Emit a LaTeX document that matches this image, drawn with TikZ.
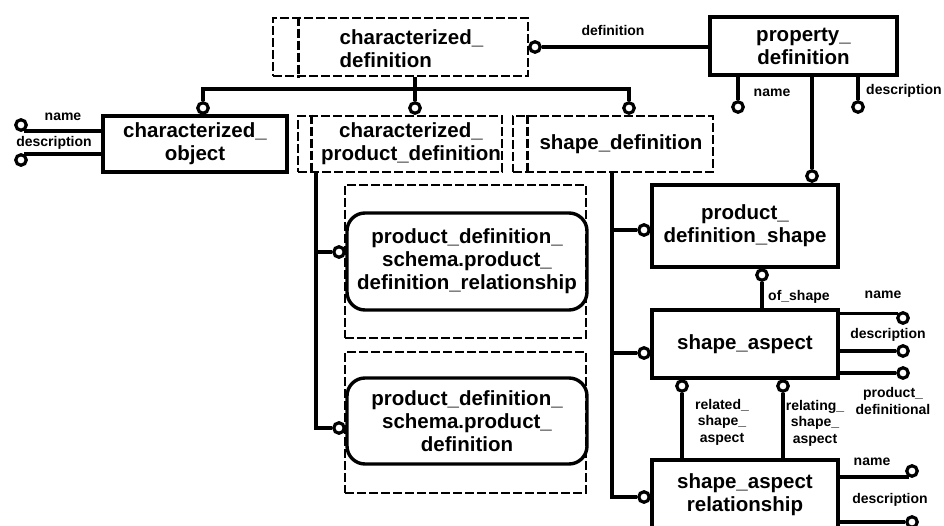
\documentclass[tikz,border=0pt]{standalone}
\usepackage{fontspec}
\setmainfont{Liberation Sans}
\newcommand{\boxfont}{\fontsize{20.5}{23}\selectfont\bfseries}
\newcommand{\lblfont}{\fontsize{14}{16.5}\selectfont\bfseries}

\begin{document}
\begin{tikzpicture}[x=1pt, y=-1pt,
    conn/.style={line width=3.4pt},
    ent/.style={draw, line width=3.4pt, font=\boxfont, align=center, inner sep=0pt},
    refbox/.style={ent, rounded corners=18pt},
    sel/.style={draw, line width=2.8pt, dash pattern=on 9pt off 3pt, inner sep=0pt},
    selbar/.style={line width=2.8pt, dash pattern=on 9pt off 3pt},
    txt/.style={font=\boxfont, align=center, inner sep=0pt},
    lbl/.style={font=\lblfont, align=center, inner sep=0pt},
    endc/.style={circle, draw, fill=white, line width=3.2pt, minimum size=10.5pt, inner sep=0pt}]
  \clip (0,0) rectangle (944,526);

  % select types
  \node[sel, minimum width=255pt, minimum height=58pt] (chardef) at (400.5,47) {};
  \draw[selbar] ([xshift=27pt]chardef.north west) -- ([xshift=27pt]chardef.south west);
  \node[txt, align=left] (chardef-t) at (411.5,49) {characterized\_\\definition};

  \node[sel, minimum width=204pt, minimum height=56pt] (cpd) at (400,144) {};
  \draw[selbar] ([xshift=15pt]cpd.north west) -- ([xshift=15pt]cpd.south west);
  \node[txt] (cpd-t) at (411,144) {characterized\_\\product\_definition};

  \node[sel, minimum width=200pt, minimum height=56pt] (sd) at (613,144) {};
  \draw[selbar] ([xshift=16pt]sd.north west) -- ([xshift=16pt]sd.south west);
  \node[txt] (sd-t) at (621,144) {shape\_definition};

  % entities
  \node[ent, minimum width=187pt, minimum height=58pt] (propdef) at (803.5,46) {property\_\\definition};
  \node[ent, minimum width=184pt, minimum height=56pt] (cobj) at (195,144) {characterized\_\\object};
  \node[ent, minimum width=186pt, minimum height=82pt] (pds) at (745,226) {product\_\\definition\_shape};
  \node[ent, minimum width=186pt, minimum height=68pt] (sa) at (745,344) {shape\_aspect};
  \node[ent, minimum width=186pt, minimum height=70pt] (sar) at (745,495) {shape\_aspect\\relationship};

  % references to the other schema
  \node[sel, minimum width=241pt, minimum height=153pt] (fa) at (465.5,261.5) {};
  \node[sel, minimum width=241pt, minimum height=141pt] (fb) at (465.5,422.5) {};
  \node[refbox, minimum width=240pt, minimum height=97pt] (pdr) at (467,261.5) {product\_definition\_\\schema.product\_\\definition\_relationship};
  \node[refbox, minimum width=240pt, minimum height=86pt] (pd) at (467,421) {product\_definition\_\\schema.product\_\\definition};

  % definition
  \node[endc] (c-def) at (535,47) {};
  \draw[conn] (c-def) -- (c-def -| propdef.west);
  \node[lbl] (l-def) at (613,31) {definition};

  % attributes of property_definition
  \node[endc] (c-pdn) at (738,107) {};
  \node[endc] (c-pdd) at (858,107) {};
  \draw[conn] (propdef.south -| c-pdn) -- (c-pdn);
  \draw[conn] (propdef.south -| c-pdd) -- (c-pdd);
  \node[lbl] (l-pdn) at (772,93) {name};
  \node[lbl, anchor=west] (l-pdd) at (866,91) {description};

  % characterized_definition subtypes
  \coordinate (t0) at (415,89);
  \node[endc] (c-cobj) at (203,108) {};
  \node[endc] (c-cpd) at (415,108) {};
  \node[endc] (c-sd) at (629,108) {};
  \draw[conn] (chardef.south -| t0) -- (t0);
  \draw[conn] (c-cobj) -- (c-cobj |- t0) -- (c-sd |- t0) -- (c-sd);
  \draw[conn] (t0) -- (c-cpd);

  % attributes of characterized_object
  \node[endc] (c-con) at (21,125) {};
  \node[endc] (c-cod) at (21,160) {};
  \draw[conn] (c-con.-60) -- (c-con.-60 -| cobj.west);
  \draw[conn] (c-cod.60) -- (c-cod.60 -| cobj.west);
  \node[lbl] (l-con) at (63,117) {name};
  \node[lbl] (l-cod) at (54,143) {description};

  % characterized_product_definition
  \coordinate (ua) at (316,252);
  \coordinate (ub) at (316,428);
  \node[endc] (c-pdr) at (339,252) {};
  \node[endc] (c-pd) at (339,428) {};
  \draw[conn] (cpd.south -| ua) -- (ub) -- (c-pd);
  \draw[conn] (ua) -- (c-pdr);

  % shape_definition
  \coordinate (va) at (612,230);
  \coordinate (vb) at (612,353);
  \coordinate (vc) at (612,497);
  \node[endc] (c-pds) at (644,230) {};
  \node[endc] (c-sa) at (644,353) {};
  \node[endc] (c-sar) at (644,497) {};
  \draw[conn] (sd.south -| va) -- (vc) -- (c-sar);
  \draw[conn] (va) -- (c-pds);
  \draw[conn] (vb) -- (c-sa);

  % property_definition to product_definition_shape
  \node[endc] (c-pdsh) at (812,176) {};
  \draw[conn] (propdef.south -| c-pdsh) -- (c-pdsh);

  % of_shape
  \node[endc] (c-of) at (762,275) {};
  \draw[conn] (c-of) -- (c-of |- sa.north);
  \node[lbl, anchor=west] (l-of) at (768,297) {of\_shape};

  % attributes of shape_aspect
  \node[endc] (c-san) at (903,318) {};
  \node[endc] (c-sad) at (903,351) {};
  \node[endc] (c-sap) at (903,373) {};
  \draw[conn] (c-san.140) -- (c-san.140 -| sa.east);
  \draw[conn] (c-sad) -- (c-sad -| sa.east);
  \draw[conn] (c-sap) -- (c-sap -| sa.east);
  \node[lbl] (l-san) at (883,295) {name};
  \node[lbl] (l-sad) at (888,335) {description};
  \node[lbl] (l-sap) at (893,401) {product\_\\definitional};

  % shape_aspect_relationship
  \node[endc] (c-rd) at (682,386) {};
  \node[endc] (c-rg) at (783,386) {};
  \draw[conn] (c-rd) -- (c-rd |- sar.north);
  \draw[conn] (c-rg) -- (c-rg |- sar.north);
  \node[lbl] (l-rd) at (722,422) {related\_\\shape\_\\aspect};
  \node[lbl] (l-rg) at (815,423) {relating\_\\shape\_\\aspect};

  % attributes of shape_aspect_relationship
  \node[endc] (c-srn) at (912,471) {};
  \node[endc] (c-srd) at (912,522) {};
  \draw[conn] (c-srn.-120) -- (c-srn.-120 -| sar.east);
  \draw[conn] (c-srd) -- (c-srd -| sar.east);
  \node[lbl] (l-srn) at (872,462) {name};
  \node[lbl] (l-srd) at (890,500) {description};
\end{tikzpicture}
\end{document}
